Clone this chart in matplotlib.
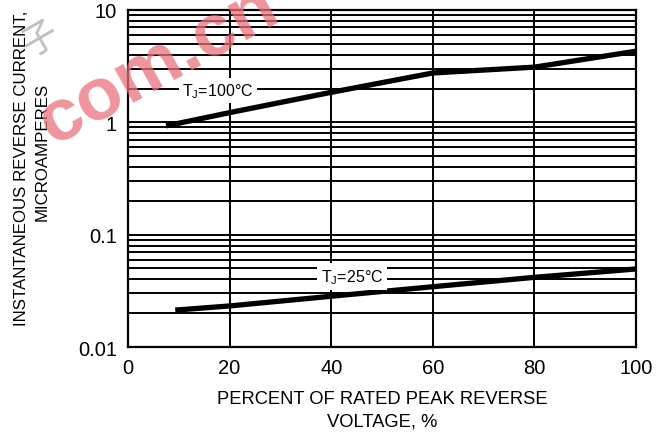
import matplotlib
matplotlib.use("Agg")
import matplotlib.pyplot as plt
from matplotlib.ticker import FixedLocator, LogLocator, NullFormatter

plt.rcParams['font.family'] = ['Liberation Sans', 'DejaVu Sans']
plt.rcParams['mathtext.fontset'] = 'custom'
plt.rcParams['mathtext.rm'] = 'Liberation Sans'

# Data
pct_100 = [7.5, 20, 40, 60, 80, 100]
cur_100 = [0.93, 1.22, 1.85, 2.75, 3.1, 4.3]
pct_25 = [9.3, 20, 40, 60, 80, 100]
cur_25 = [0.0213, 0.0232, 0.0283, 0.0344, 0.0417, 0.0495]
x_ticks = [0, 20, 40, 60, 80, 100]
y_ticks = [0.01, 0.1, 1, 10]
y_tick_labels = ["0.01", "0.1", "1", "10"]
label_100 = r"T$_\mathregular{J}$=100°C"
label_25 = r"T$_\mathregular{J}$=25°C"

W, H = 672, 435
fig = plt.figure(figsize=(W / 100, H / 100), dpi=100)
ax = fig.add_axes([128 / W, 1 - 348 / H, 508 / W, 337 / H])

ax.set_yscale('log')
ax.set_xlim(0, 100)
ax.set_ylim(0.01, 10)

ax.xaxis.set_major_locator(FixedLocator(x_ticks))
ax.set_xticklabels([str(v) for v in x_ticks])
ax.yaxis.set_major_locator(FixedLocator(y_ticks))
ax.set_yticklabels(y_tick_labels)
ax.yaxis.set_minor_locator(LogLocator(base=10, subs=range(2, 10)))
ax.yaxis.set_minor_formatter(NullFormatter())
ax.tick_params(axis='both', which='both', length=0, labelsize=14.5, pad=8)

ax.grid(True, which='both', axis='y', color='black', lw=1.4)
ax.grid(True, which='major', axis='x', color='black', lw=1.4)
ax.set_axisbelow(True)
for s in ax.spines.values():
    s.set_linewidth(1.6)
    s.set_color('black')

ax.plot(pct_100, cur_100, color='black', lw=3.8, solid_capstyle='butt', zorder=3)
ax.plot(pct_25, cur_25, color='black', lw=3.8, solid_capstyle='butt', zorder=3)

ax.text(17.7, 1.92, label_100, fontsize=11.5, ha='center', va='center',
        bbox=dict(facecolor='white', edgecolor='none', pad=2.5), zorder=4)
ax.text(44.1, 0.0427, label_25, fontsize=11.5, ha='center', va='center',
        bbox=dict(facecolor='white', edgecolor='none', pad=3.0), zorder=4)

fig.text(382 / W, 1 - 400 / H, "PERCENT OF RATED PEAK REVERSE", fontsize=13.2,
         ha='center', va='center')
fig.text(382 / W, 1 - 422 / H, "VOLTAGE, %", fontsize=13.2, ha='center', va='center')

fig.text(22 / W, 1 - 168 / H, "INSTANTANEOUS REVERSE CURRENT,", fontsize=12.2,
         rotation=90, ha='center', va='center')
fig.text(42 / W, 1 - 152 / H, "MICROAMPERES", fontsize=12.2,
         rotation=90, ha='center', va='center')

# watermark
fig.text(158 / W, 1 - 66 / H, "com.cn", fontsize=54, fontweight='bold',
         color='#e8707c', alpha=0.75, rotation=29, ha='center', va='center', zorder=10)
fig.text(40 / W, 1 - 40 / H, "子", fontsize=26, family=['Noto Sans CJK SC'],
         color='#8a8a8a', alpha=0.55, rotation=30, ha='center', va='center', zorder=10)

fig.savefig("out.png", dpi=100)
